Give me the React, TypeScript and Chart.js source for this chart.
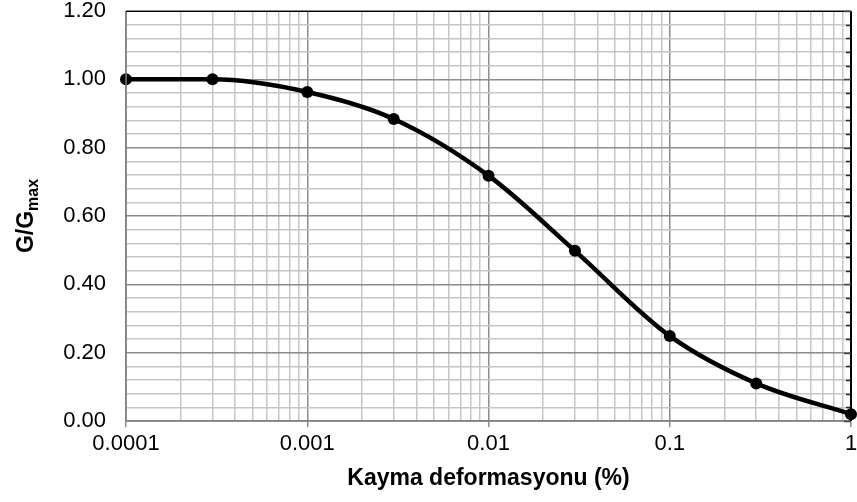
import React, { useEffect, useRef } from "react";
import { Chart, registerables } from "chart.js";

Chart.register(...registerables);

// Shear strain (%) and normalized shear modulus G/Gmax
const strainPercent = [0.0001, 0.0003, 0.001, 0.003, 0.01, 0.03, 0.1, 0.3, 1];
const modulusRatio = [1.0, 1.0, 0.963, 0.884, 0.718, 0.498, 0.249, 0.11, 0.02];

// Axis labels
const decadeLabels = ["0.0001", "0.001", "0.01", "0.1", "1"];
const yMajorLabels = ["0.00", "0.20", "0.40", "0.60", "0.80", "1.00", "1.20"];
const xTitle = "Kayma deformasyonu (%)";
const yTitleMain = "G/G";
const yTitleSub = "max";

const FONT = "'Liberation Sans', Arial, sans-serif";
const TICK_SIZE = 22;
const TITLE_SIZE = 23;

const MAJOR_GRID = "#8c8c8c";
const MINOR_GRID = "#c6c6c6";

function decadeTicks(): number[] {
  const out: number[] = [];
  for (let e = -4; e < 0; e++) {
    for (let k = 1; k <= 9; k++) {
      out.push(parseFloat((k * Math.pow(10, e)).toPrecision(12)));
    }
  }
  out.push(1);
  return out;
}

function isDecade(v: number): boolean {
  const l = Math.log10(v);
  return Math.abs(l - Math.round(l)) < 1e-9;
}

function isMajorY(v: number): boolean {
  const r = v / 0.2;
  return Math.abs(r - Math.round(r)) < 1e-6;
}

// Frame, inward ticks on the right edge and the rotated y title with subscript
const framePlugin = {
  id: "frame",
  afterDraw(chart: any) {
    const { ctx, chartArea } = chart;
    const { left, right, top, bottom } = chartArea;
    const yScale = chart.scales.y;
    ctx.save();
    // left and bottom axis lines
    ctx.strokeStyle = "#7f7f7f";
    ctx.lineWidth = 1.5;
    ctx.beginPath();
    ctx.moveTo(left, top);
    ctx.lineTo(left, bottom);
    ctx.lineTo(right, bottom);
    ctx.stroke();
    // top border
    ctx.strokeStyle = "#000";
    ctx.lineWidth = 1;
    ctx.beginPath();
    ctx.moveTo(left, top + 0.5);
    ctx.lineTo(right, top + 0.5);
    ctx.stroke();
    // right border
    ctx.lineWidth = 2;
    ctx.beginPath();
    ctx.moveTo(right, top);
    ctx.lineTo(right, bottom);
    ctx.stroke();
    // inward ticks on the right border
    ctx.lineWidth = 1.5;
    for (const t of yScale.ticks) {
      const py = Math.round(yScale.getPixelForValue(t.value)) + 0.5;
      const len = isMajorY(t.value) ? 7 : 5;
      ctx.strokeStyle = isMajorY(t.value) ? "#444" : "#222";
      ctx.beginPath();
      ctx.moveTo(right - len, py);
      ctx.lineTo(right, py);
      ctx.stroke();
    }
    // y title
    const cx = 25;
    const cy = (top + bottom) / 2;
    ctx.translate(cx, cy);
    ctx.rotate(-Math.PI / 2);
    ctx.fillStyle = "#000";
    ctx.textBaseline = "alphabetic";
    const mainFont = `bold ${TITLE_SIZE}px ${FONT}`;
    const subFont = `bold ${Math.round(TITLE_SIZE * 0.68)}px ${FONT}`;
    ctx.font = mainFont;
    const wMain = ctx.measureText(yTitleMain).width;
    ctx.font = subFont;
    const wSub = ctx.measureText(yTitleSub).width;
    const total = wMain + wSub;
    const x0 = -total / 2;
    const baseY = TITLE_SIZE * 0.36;
    ctx.font = mainFont;
    ctx.textAlign = "left";
    ctx.fillText(yTitleMain, x0, baseY);
    ctx.font = subFont;
    ctx.fillText(yTitleSub, x0 + wMain, baseY + TITLE_SIZE * 0.22);
    ctx.restore();
  },
};

export default function App() {
  const canvasRef = useRef<HTMLCanvasElement | null>(null);

  useEffect(() => {
    document.body.style.margin = "0";
    const canvas = canvasRef.current;
    if (!canvas) return;

    const chart = new Chart(canvas, {
      type: "line",
      data: {
        datasets: [
          {
            data: strainPercent.map((x, i) => ({ x, y: modulusRatio[i] })),
            borderColor: "#000",
            backgroundColor: "#000",
            borderWidth: 4.5,
            pointRadius: 6,
            pointBackgroundColor: "#000",
            pointBorderColor: "#000",
            pointBorderWidth: 0,
            tension: 0.4,
            cubicInterpolationMode: "monotone",
            clip: false,
          } as any,
        ],
      },
      options: {
        responsive: false,
        animation: false,
        events: [],
        layout: { padding: { top: 11, right: 6, left: 0, bottom: 10 } },
        plugins: {
          legend: { display: false },
          tooltip: { enabled: false },
        },
        scales: {
          x: {
            type: "logarithmic",
            min: 0.0001,
            max: 1,
            afterBuildTicks(scale: any) {
              scale.ticks = decadeTicks().map((v) => ({ value: v, major: isDecade(v) }));
            },
            afterFit(scale: any) {
              scale.height = 502 - 421 - 10;
              scale.paddingLeft = 0;
              scale.paddingRight = 0;
            },
            border: { display: false },
            grid: {
              color: (c: any) => (c.tick && isDecade(c.tick.value) ? MAJOR_GRID : MINOR_GRID),
              lineWidth: 1.5,
              tickLength: 6,
              tickColor: (c: any) => (c.tick && isDecade(c.tick.value) ? "#8c8c8c" : "rgba(0,0,0,0)"),
            },
            ticks: {
              autoSkip: false,
              maxRotation: 0,
              padding: 4,
              color: "#000",
              font: { family: FONT, size: TICK_SIZE },
              callback: (v: any) => {
                const val = Number(v);
                if (!isDecade(val)) return "";
                const idx = Math.round(Math.log10(val)) + 4;
                return decadeLabels[idx];
              },
            },
            title: {
              display: true,
              text: xTitle,
              color: "#000",
              font: { family: FONT, size: TITLE_SIZE, weight: "bold" },
              padding: { top: 4, bottom: 0 },
            },
          },
          y: {
            min: 0,
            max: 1.2,
            afterBuildTicks(scale: any) {
              const t: any[] = [];
              for (let i = 0; i <= 30; i++) t.push({ value: parseFloat((i * 0.04).toFixed(4)) });
              scale.ticks = t;
            },
            afterFit(scale: any) {
              scale.width = 126;
              scale.paddingTop = 0;
              scale.paddingBottom = 0;
            },
            border: { display: false },
            grid: {
              color: (c: any) => (c.tick && isMajorY(c.tick.value) ? MAJOR_GRID : MINOR_GRID),
              lineWidth: 1.5,
              drawTicks: false,
            },
            ticks: {
              autoSkip: false,
              padding: 20,
              color: "#000",
              font: { family: FONT, size: TICK_SIZE },
              callback: (v: any) => {
                const val = Number(v);
                if (!isMajorY(val)) return "";
                return yMajorLabels[Math.round(val / 0.2)];
              },
            },
          },
        },
      },
      plugins: [framePlugin],
    });

    return () => chart.destroy();
  }, []);

  return (
    <div style={{ width: 857, height: 502, background: "#fff" }}>
      <canvas ref={canvasRef} width={857} height={502} />
    </div>
  );
}
